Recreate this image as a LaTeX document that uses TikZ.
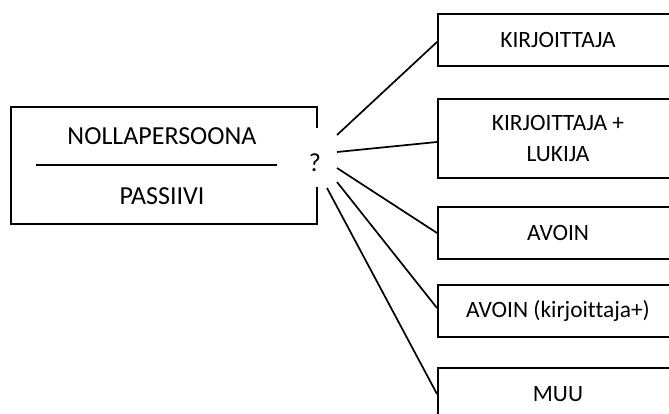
\documentclass[tikz,border=0pt]{standalone}
\usepackage{fontspec}
\setmainfont{Carlito}[Ligatures={NoCommon}]
\begin{document}
\begin{tikzpicture}[x=1pt,y=-1pt,
  bigtext/.style={font=\fontsize{26}{31}\selectfont, inner sep=0pt},
  rbox/.style={draw, line width=2pt, minimum width=240pt, minimum height=52pt, inner sep=0pt, align=center,
    font=\fontsize{23.4}{31}\selectfont},
  conn/.style={line width=1.7pt}]
\useasboundingbox (0,0) rectangle (669,414);
\clip (0,0) rectangle (669,414);
% left box
\node[draw, line width=2pt, minimum width=306pt, minimum height=117pt, inner sep=0pt] (L) at (164,165.5) {};
\node[bigtext] (t1) at (162,136) {NOLLAPERSOONA};
\node[bigtext] (t2) at (162,196) {PASSIIVI};
\coordinate (d1) at (36,165);
\coordinate (d2) at (277,165);
\draw[conn] (d1) -- (d2);
\node[fill=white, inner sep=0pt, text height=44pt, text depth=15pt, minimum width=14pt,
  font=\fontsize{26}{31}\selectfont, anchor=base] (q) at (315,172) {?};
% right boxes
\node[rbox] (R1) at (558,40) {KIRJOITTAJA};
\node[rbox, minimum height=79pt] (R2) at (558,138.5) {KIRJOITTAJA +\\LUKIJA};
\node[rbox] (R3) at (558,233) {AVOIN};
\node[rbox] (R4) at (558,311) {AVOIN (kirjoittaja+)};
\node[rbox] (R5) at (558,394) {MUU};
% connectors
\coordinate (s1) at (337,135);
\coordinate (s2) at (337,152);
\coordinate (s3) at (337,168);
\coordinate (s4) at (337,182);
\coordinate (s5) at (327,188);
\draw[conn] (s1) -- ([yshift=-2pt]R1.west);
\draw[conn] (s2) -- ([yshift=-3.5pt]R2.west);
\draw[conn] (s3) -- (R3.west);
\draw[conn] (s4) -- ([yshift=3pt]R4.west);
\draw[conn] (s5) -- (R5.west);
\end{tikzpicture}
\end{document}
